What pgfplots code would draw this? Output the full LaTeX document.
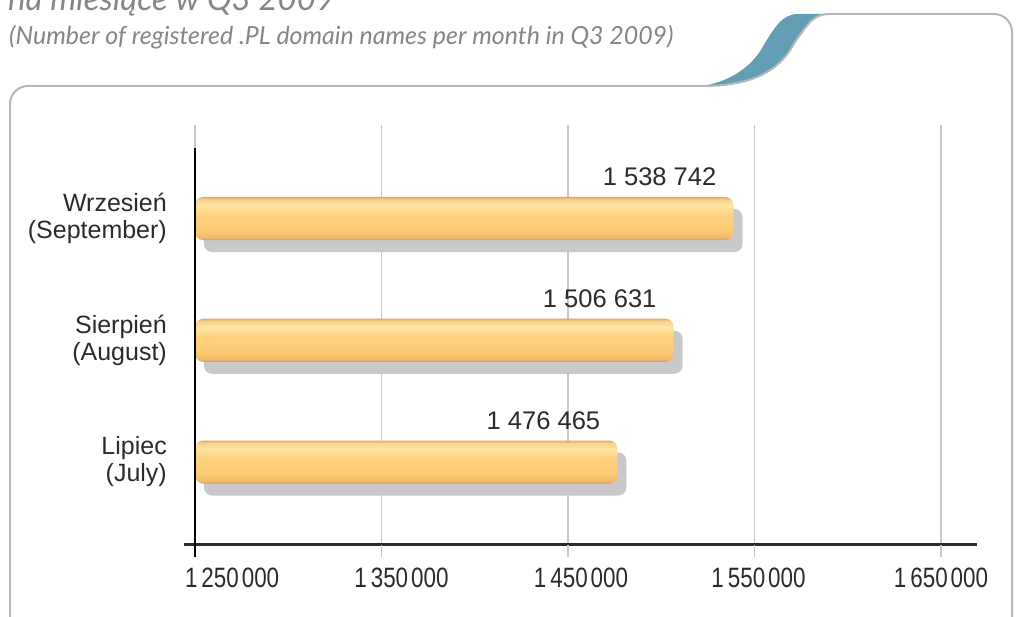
\documentclass[border=0pt]{standalone}
\usepackage{fontspec}
\setmainfont{Liberation Sans}
\newfontfamily\narrowfont[FakeStretch=0.8]{Liberation Sans}
\newfontfamily\titlefont{Lato}
\usepackage{pgfplots}
\pgfplotsset{compat=1.18}
\definecolor{framegray}{HTML}{B7B7BB}
\definecolor{swoosh}{HTML}{649EB4}
\definecolor{titlegray}{HTML}{85858A}
\definecolor{gridc}{HTML}{C8C8C8}
\definecolor{shadowc}{HTML}{C9C9CB}
\definecolor{labc}{HTML}{2B2B2B}
\definecolor{bbot}{HTML}{D39A57}
\definecolor{bbottwo}{HTML}{EFBB6B}
\definecolor{bmid}{HTML}{FCCC74}
\definecolor{bmidtwo}{HTML}{FDD380}
\definecolor{blight}{HTML}{FEE4A4}
\definecolor{btoptwo}{HTML}{F8D38E}
\definecolor{btop}{HTML}{E2AD64}
\pgfdeclareverticalshading{barshade}{100bp}{color(0bp)=(bbot); color(25bp)=(bbot); color(28bp)=(bbottwo); color(37bp)=(bmid); color(55bp)=(bmidtwo); color(65bp)=(blight); color(72bp)=(btoptwo); color(75bp)=(btop); color(100bp)=(btop)}
\newcommand\tl[2]{1\hspace{4pt}#1\hspace{3pt}#2}
\begin{document}
\begin{tikzpicture}
\useasboundingbox (0,0) rectangle (1017pt,616pt);
\begin{axis}[
  at={(184pt,71.5pt)}, anchor=south west, scale only axis,
  width=793pt, height=419.5pt,
  xmin=1244102, xmax=1669303, ymin=-0.6776, ymax=2.768,
  axis x line*=bottom, axis y line*=left,
  x axis line style={draw=labc, line width=3pt},
  y axis line style={draw=none},
  xtick={1250000,1350000,1450000,1550000,1650000},
  xticklabels={{\makebox[0pt][l]{\hspace{-10pt}\tl{250}{000}}},{\hspace{40pt}\tl{350}{000}},{\hspace{26pt}\tl{450}{000}},{\hspace{8pt}\tl{550}{000}},\tl{650}{000}},
  ytick={0,1,2},
  yticklabels={{Lipiec\\(July)},{Sierpień\\(August)},{Wrzesień\\(September)}},
  major tick length=0pt,
  xmajorgrids, grid style={gridc, line width=1.2pt},
  xticklabel style={font=\narrowfont\fontsize{28}{28}\selectfont, text=labc, anchor=center, yshift=-33.5pt},
  yticklabel style={font=\fontsize{25}{27}\selectfont, text=labc, align=right, anchor=east, inner sep=0pt, xshift=-17pt},
  clip=false,
  shadow/.style={fill=shadowc, draw=none, rounded corners=8pt, transform canvas={shift={(9pt,-12pt)}}},
  bar/.style={shading=barshade, draw=none, rounded corners=8pt},
]
% shadows
\addplot[shadow] coordinates {(1250000,-0.1766) (1476465,-0.1766) (1476465,0.1766) (1250000,0.1766)} -- cycle;
\addplot[shadow] coordinates {(1250000,0.8234) (1506631,0.8234) (1506631,1.1766) (1250000,1.1766)} -- cycle;
\addplot[shadow] coordinates {(1250000,1.8234) (1538742,1.8234) (1538742,2.1766) (1250000,2.1766)} -- cycle;
% July
\addplot[bar] coordinates {(1250000,-0.1766) (1476465,-0.1766) (1476465,0.1766) (1250000,0.1766)} -- cycle;
% August
\addplot[bar] coordinates {(1250000,0.8234) (1506631,0.8234) (1506631,1.1766) (1250000,1.1766)} -- cycle;
% September
\addplot[bar] coordinates {(1250000,1.8234) (1538742,1.8234) (1538742,2.1766) (1250000,2.1766)} -- cycle;
% value labels
\addplot[only marks, mark size=0pt, point meta=explicit symbolic, nodes near coords,
  nodes near coords style={anchor=base east, xshift=-17pt, yshift=11pt, inner sep=0pt,
    font=\fontsize{25.5}{25.5}\selectfont, text=labc}]
  coordinates {(1476465,0.1766)[1 476 465] (1506631,1.1766)[1 506 631] (1538742,2.1766)[1 538 742]};
\pgfplotsinvokeforeach{1350000,1450000,1550000,1650000}{
  \draw[gridc, line width=1.2pt] (axis cs:#1,-0.6776) -- ++(0pt,-12pt);
}
\draw[black, line width=2.5pt] (axis cs:1250000,2.58) -- (axis cs:1250000,-0.6776) -- ++(0pt,-12pt);
\end{axis}
\begin{scope}[shift={(0pt,616pt)}, x=1pt, y=-1pt]
  \fill[swoosh] (702,86) .. controls (730,82) and (752,66) .. (762,48) .. controls (774,28) and (782,14) .. (798,14) -- (830,14)
     .. controls (813,14) and (808,24) .. (795,42) .. controls (782,66) and (760,86) .. (702,86) -- cycle;
  \draw[framegray, line width=2pt] (10,650) -- (10,104) arc[start angle=180, end angle=270, radius=18] -- (702,86)
     .. controls (760,86) and (782,66) .. (795,42) .. controls (808,24) and (813,14) .. (830,14) -- (994,14)
     arc[start angle=270, end angle=360, radius=18] -- (1012,650);
  \node[anchor=base west, inner sep=0pt, text=titlegray] at (8,11) {\titlefont\itshape\fontsize{33}{33}\selectfont na miesiące w Q3 2009};
  \node[anchor=base west, inner sep=0pt, text=titlegray] at (9,45) {\titlefont\itshape\fontsize{24.9}{24.9}\selectfont (Number of registered .PL domain names per month in Q3 2009)};
\end{scope}
\end{tikzpicture}
\end{document}
